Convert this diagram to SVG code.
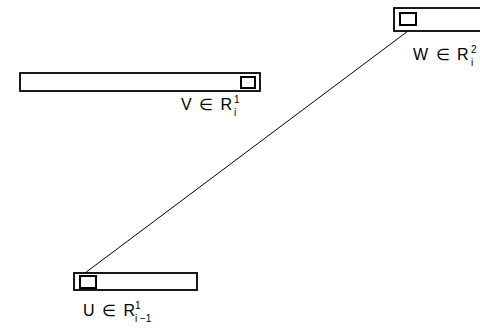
<svg xmlns="http://www.w3.org/2000/svg" width="480" height="328" viewBox="0 0 480 328">
  <style>
    .bar { fill: #fff; stroke: #000; stroke-width: 1.8; }
    .cell { fill: #fff; stroke: #000; stroke-width: 2; }
    .lbl { font-family: "Liberation Sans", Arial, sans-serif; font-size: 16px; fill: #000; letter-spacing: 1.5px; }
    .idx { font-family: "Liberation Sans", Arial, sans-serif; font-size: 10px; fill: #000; }
    .edge { stroke: #000; stroke-width: 1; fill: none; }
  </style>
  <rect width="480" height="328" fill="#fff"/>

  <g id="connectors">
    <line class="edge" x1="408" y1="31" x2="85" y2="273"/>
  </g>

  <g id="node-V">
    <rect class="bar" x="20" y="73" width="240" height="18"/>
    <rect class="cell" x="241" y="77" width="14" height="11"/>
    <text class="lbl" x="181" y="110">V ∈ R</text>
    <text class="idx" x="234" y="103">1</text>
    <text class="idx" x="234" y="116">i</text>
  </g>

  <g id="node-W">
    <rect class="bar" x="394" y="8" width="90" height="23"/>
    <rect class="cell" x="400" y="13" width="16" height="12"/>
    <text class="lbl" x="413" y="60">W ∈ R</text>
    <text class="idx" x="471" y="53">2</text>
    <text class="idx" x="471" y="66">i</text>
  </g>

  <g id="node-U">
    <rect class="bar" x="74" y="273" width="123" height="17"/>
    <rect class="cell" x="80" y="276" width="16" height="12"/>
    <text class="lbl" x="83" y="316">U ∈ R</text>
    <text class="idx" x="135" y="309">1</text>
    <text class="idx" x="135" y="322">i −1</text>
  </g>
</svg>
